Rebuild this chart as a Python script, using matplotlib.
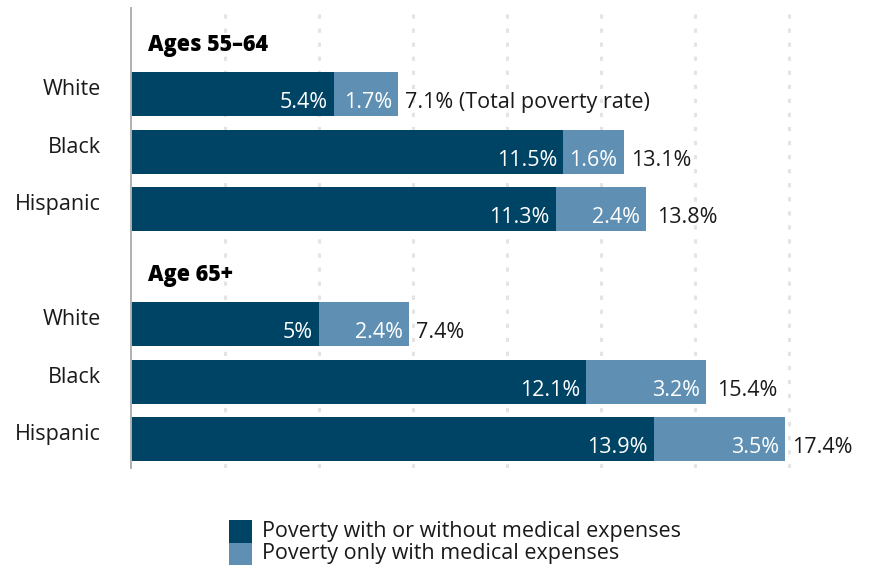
import matplotlib.pyplot as plt
from matplotlib.patches import Rectangle
import numpy as np

plt.rcParams['font.family'] = ['Open Sans', 'DejaVu Sans']

groups = ['Ages 55–64', 'Age 65+']
races = ['White', 'Black', 'Hispanic']
base_55 = [5.4, 11.5, 11.3]
medical_55 = [1.7, 1.6, 2.4]
total_55 = [7.1, 13.1, 13.8]
base_65 = [5.0, 12.1, 13.9]
medical_65 = [2.4, 3.2, 3.5]
total_65 = [7.4, 15.4, 17.4]
legend_labels = ['Poverty with or without medical expenses',
                 'Poverty only with medical expenses']

dark = '#004465'
light = '#5f90b3'
fs = 15.5

W, H = 873, 569
fig = plt.figure(figsize=(W / 100, H / 100), dpi=100)
ax = fig.add_axes([131 / W, (H - 468) / H, (870 - 131) / W, 460 / H])


def pct(v):
    return f'{v:g}%'


data = [(base_55, medical_55, total_55), (base_65, medical_65, total_65)]
for g, (base, med, total) in enumerate(data):
    header_y = g * 4
    ax.annotate(groups[g], xy=(0, header_y), xytext=(17, -8.5),
                textcoords='offset pixels', ha='left', va='center',
                fontsize=fs, fontweight='heavy', color='black')
    ys = [header_y + 1 + i for i in range(len(races))]
    ax.barh(ys, base, height=0.765, color=dark, zorder=3)
    ax.barh(ys, med, left=base, height=0.765, color=light, zorder=3)
    for i, y in enumerate(ys):
        ax.annotate(races[i], xy=(0, y), xytext=(-30, -1),
                    textcoords='offset pixels', ha='right', va='baseline',
                    fontsize=fs, color='#1a1a1a', annotation_clip=False)
        ax.annotate(pct(base[i]), xy=(base[i], y), xytext=(-6, -14),
                    textcoords='offset pixels', ha='right', va='baseline',
                    fontsize=fs, color='white', zorder=4)
        ax.annotate(pct(med[i]), xy=(base[i] + med[i], y), xytext=(-6, -14),
                    textcoords='offset pixels', ha='right', va='baseline',
                    fontsize=fs, color='white', zorder=4)
        label = pct(total[i])
        if g == 0 and i == 0:
            label += ' (Total poverty rate)'
        ax.annotate(label, xy=(total[i], y), xytext=(7, -14),
                    textcoords='offset pixels', ha='left', va='baseline',
                    fontsize=fs, color='#1a1a1a', zorder=4)

ax.set_xlim(0, (870 - 131) / 37.6)
ax.set_ylim(7.5, -0.5)
ax.set_xticks(np.arange(2.5, 18, 2.5))
ax.set_yticks([])
ax.tick_params(axis='x', length=0, labelbottom=False)
ax.xaxis.grid(True, color='#e4e4e4', linewidth=2.2,
              linestyle=(0, (1.4, 3.2)), zorder=0)
for side in ['top', 'right', 'bottom']:
    ax.spines[side].set_visible(False)
ax.spines['left'].set_color('#b0b0b0')
ax.spines['left'].set_linewidth(1.4)
ax.spines['left'].set_zorder(5)

# legend drawn as two stacked swatches with labels
for k, (col, lab) in enumerate(zip([dark, light], legend_labels)):
    top = 520 + k * 22.5
    fig.add_artist(Rectangle((229 / W, (H - top - 22.5) / H), 23 / W, 22.5 / H,
                             transform=fig.transFigure, color=col, lw=0))
    fig.text(262 / W, (H - top - 11) / H, lab, ha='left', va='center',
             fontsize=fs, color='#1a1a1a')

fig.savefig('out.png', dpi=100)
